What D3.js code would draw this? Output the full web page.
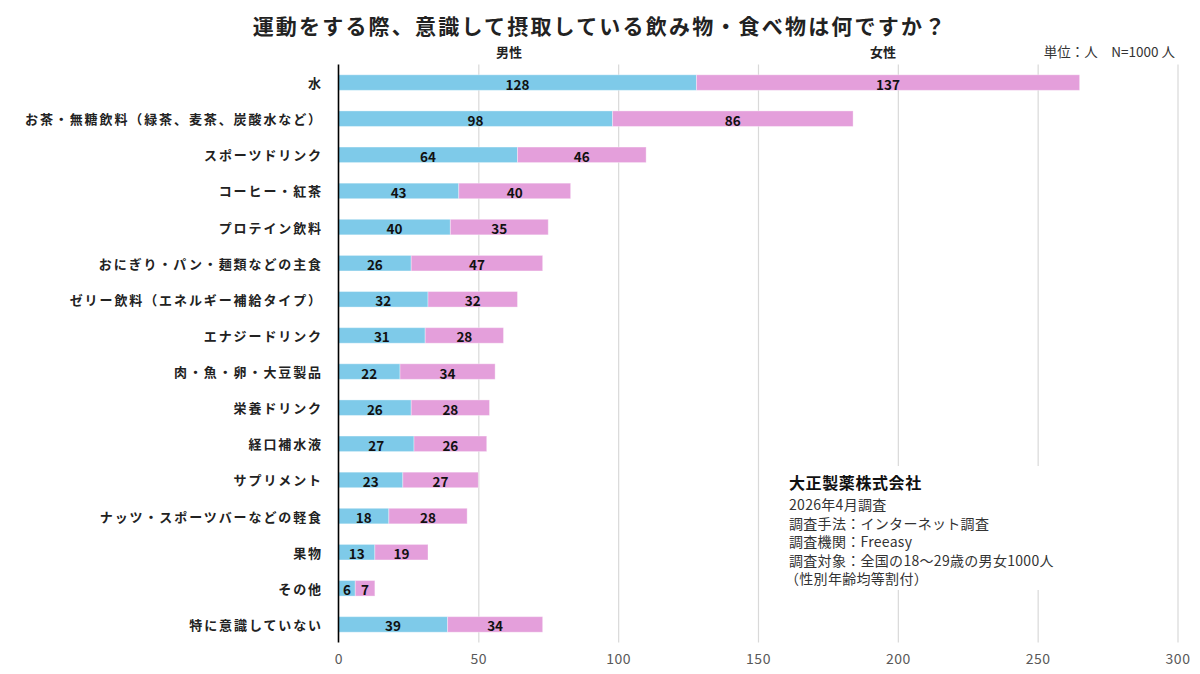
<!DOCTYPE html>
<html>
<head>
<meta charset="utf-8">
<script src="https://cdn.jsdelivr.net/npm/d3@7"></script>
<style>
  body { margin: 0; background: #fff; }
  svg { display: block; font-family: "Noto Sans CJK JP", "Noto Sans", sans-serif; }
</style>
</head>
<body>
<svg width="1200" height="674"></svg>
<script>
let categories = [
    '水',
    'お茶・無糖飲料（緑茶、麦茶、炭酸水など）',
    'スポーツドリンク',
    'コーヒー・紅茶',
    'プロテイン飲料',
    'おにぎり・パン・麺類などの主食',
    'ゼリー飲料（エネルギー補給タイプ）',
    'エナジードリンク',
    '肉・魚・卵・大豆製品',
    '栄養ドリンク',
    '経口補水液',
    'サプリメント',
    'ナッツ・スポーツバーなどの軽食',
    '果物',
    'その他',
    '特に意識していない'
];
let male = [128, 98, 64, 43, 40, 26, 32, 31, 22, 26, 27, 23, 18, 13, 6, 39];
let female = [137, 86, 46, 40, 35, 47, 32, 28, 34, 28, 26, 27, 28, 19, 7, 34];
let seriesNames = ['男性', '女性'];
let xTicks = [0, 50, 100, 150, 200, 250, 300];
let noteLines = [
    '2026年4月調査',
    '調査手法：インターネット調査',
    '調査機関：Freeasy',
    '調査対象：全国の18～29歳の男女1000人',
    '（性別年齢均等割付）'
];

let colors = ['#7ecae9', '#e49fdb'];
let plotLeft = 338.5, plotRight = 1177.5, plotTop = 64.5, plotBottom = 642.5;

let svg = d3.select('svg');

// title
svg.append('text')
    .attr('x', 600)
    .attr('y', 25)
    .attr('text-anchor', 'middle')
    .attr('dominant-baseline', 'central')
    .style('font-size', '21px')
    .style('font-weight', 'bold')
    .style('letter-spacing', '2.2px')
    .style('fill', '#222')
    .text('運動をする際、意識して摂取している飲み物・食べ物は何ですか？');

let xScale = d3.scaleLinear()
    .domain([0, 300])
    .range([plotLeft, plotRight]);

let yScale = d3.scaleBand()
    .domain(categories)
    .range([plotTop, plotBottom])
    .paddingInner(0.57)
    .paddingOuter(0.285);

// grid
svg.append('g')
    .attr('transform', `translate(0, ${plotBottom})`)
    .call(d3.axisBottom(xScale).tickValues(xTicks.slice(1)).tickSize(-(plotBottom - plotTop)).tickFormat(''))
    .call(g => g.select('.domain').remove())
    .call(g => g.selectAll('line').attr('stroke', '#d9d9d9').attr('stroke-width', 1.2));

// tick labels
svg.append('g')
    .attr('transform', `translate(0, ${plotBottom})`)
    .call(d3.axisBottom(xScale).tickValues(xTicks).tickSize(0).tickPadding(12))
    .call(g => g.select('.domain').remove())
    .call(g => g.selectAll('text')
        .style('font-size', '14px')
        .style('letter-spacing', '0.5px')
        .style('font-family', '"Noto Sans CJK JP", sans-serif')
        .attr('fill', '#595959'));

// note box covering the grid
svg.append('rect')
    .attr('x', 784)
    .attr('y', 466)
    .attr('width', 292)
    .attr('height', 124)
    .attr('fill', '#fff');

let rows = categories.map((c, i) => ({ name: c, male: male[i], female: female[i] }));

let segs = [];
rows.forEach(r => {
    segs.push({ name: r.name, s: 0, x0: 0, x1: r.male, v: r.male });
    segs.push({ name: r.name, s: 1, x0: r.male, x1: r.male + r.female, v: r.female });
});

let bars = svg.append('g').selectAll('g')
    .data(segs)
    .enter()
    .append('g');

bars.append('rect')
    .attr('x', d => xScale(d.x0))
    .attr('y', d => yScale(d.name))
    .attr('width', d => xScale(d.x1) - xScale(d.x0))
    .attr('height', yScale.bandwidth())
    .attr('fill', d => colors[d.s])
    .attr('stroke', '#fff')
    .attr('stroke-opacity', 0.35)
    .attr('stroke-width', 1);

bars.append('text')
    .attr('x', d => (xScale(d.x0) + xScale(d.x1)) / 2)
    .attr('y', d => yScale(d.name) + yScale.bandwidth() / 2 + 1)
    .attr('text-anchor', 'middle')
    .attr('dominant-baseline', 'central')
    .style('font-size', '13.5px')
    .style('font-weight', 'bold')
    .style('fill', '#111')
    .text(d => d.v);

// left axis line
svg.append('line')
    .attr('x1', plotLeft).attr('x2', plotLeft)
    .attr('y1', plotTop).attr('y2', plotBottom)
    .attr('stroke', '#000')
    .attr('stroke-width', 1.6);

// category labels
svg.append('g').selectAll('text')
    .data(categories)
    .enter()
    .append('text')
    .attr('x', 323)
    .attr('y', d => yScale(d) + yScale.bandwidth() / 2)
    .attr('text-anchor', 'end')
    .attr('dominant-baseline', 'central')
    .style('font-size', '13px')
    .style('font-weight', 'bold')
    .style('letter-spacing', '1.9px')
    .style('fill', '#222')
    .text(d => d);

// series headers
let headerX = [509, 883];
svg.append('g').selectAll('text')
    .data(seriesNames)
    .enter()
    .append('text')
    .attr('x', (d, i) => headerX[i])
    .attr('y', 51)
    .attr('text-anchor', 'middle')
    .attr('dominant-baseline', 'central')
    .style('font-size', '13px')
    .style('font-weight', 'bold')
    .style('fill', '#222')
    .text(d => d);

svg.append('text')
    .attr('x', 1175)
    .attr('y', 51)
    .attr('text-anchor', 'end')
    .attr('dominant-baseline', 'central')
    .style('font-size', '13.5px')
    .style('fill', '#333')
    .text('単位：人　N=1000 人');

// source note
svg.append('text')
    .attr('x', 789)
    .attr('y', 482)
    .attr('dominant-baseline', 'central')
    .style('font-size', '16px')
    .style('font-weight', 'bold')
    .style('letter-spacing', '0.6px')
    .style('fill', '#111')
    .text('大正製薬株式会社');

svg.append('g').selectAll('text')
    .data(noteLines)
    .enter()
    .append('text')
    .attr('x', (d, i) => i === 4 ? 785 : 789)
    .attr('y', (d, i) => 504 + i * 18.5)
    .attr('dominant-baseline', 'central')
    .style('font-size', '14px')
    .style('letter-spacing', '0.3px')
    .style('fill', '#333')
    .text(d => d);
</script>
</body>
</html>
